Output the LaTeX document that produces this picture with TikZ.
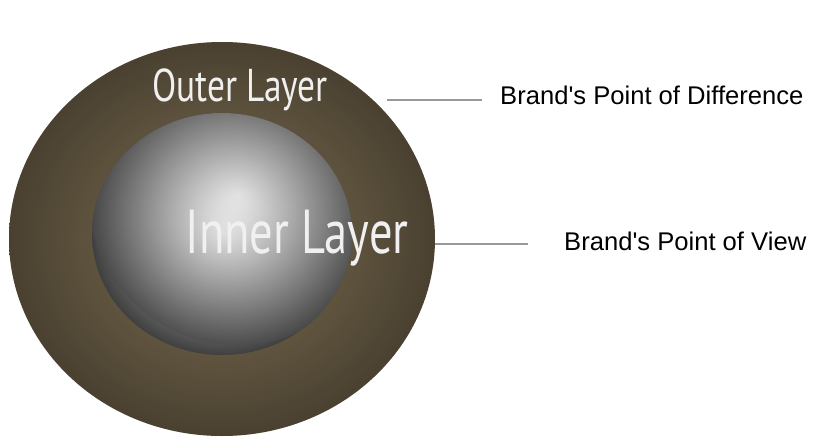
\documentclass[tikz,border=0pt]{standalone}
\usepackage{fontspec}
\setmainfont{Liberation Sans}
\newfontfamily\layerfont{PT Sans}
\begin{document}
\begin{tikzpicture}[x=1pt,y=-1pt,
  lbl/.style={anchor=west,inner sep=0pt,font=\fontsize{25.6}{28}\selectfont,text=black},
  lay/.style={inner sep=0pt,text=white!88!gray},
  conn/.style={draw=gray!80,line width=2pt}]
\useasboundingbox (0,0) rectangle (820,445);
\fill[white] (0,0) rectangle (820,445);
\definecolor{brL}{HTML}{8C7C5C}
\definecolor{brD}{HTML}{4A4131}
\shade[inner color=brL,outer color=brD] (222,239) ellipse [x radius=213,y radius=197];
\begin{scope}
\clip (222,239) ellipse [x radius=213,y radius=197];
\fill[brD,opacity=0.2] (222,239) ellipse [x radius=213,y radius=197];
\end{scope}
\shade[inner color=white!95!gray,outer color=black!75,shading=radial] (222,234) ellipse [x radius=130,y radius=121];
\begin{scope}
\clip (222,234) ellipse [x radius=130,y radius=121];
\shade[inner color=white,outer color=gray!60!black,opacity=0.6] (238,195) circle (150);
\end{scope}
\node[lay,font=\layerfont\fontsize{46}{48}\selectfont,xscale=0.77] (outer) at (240,90) {Outer Layer};
\node[lay,font=\layerfont\fontsize{62}{64}\selectfont,xscale=0.75] (inner) at (297,238) {Inner Layer};
\node[lbl] (pod) at (500,95) {Brand\textquotesingle s Point of Difference};
\node[lbl] (pov) at (564,241) {Brand\textquotesingle s Point of View};
\coordinate (a) at (387,100);
\coordinate (b) at (435,244);
\draw[conn] (a) -- (a -| 482,0);
\draw[conn] (b) -- (b -| 528,0);
\end{tikzpicture}
\end{document}
